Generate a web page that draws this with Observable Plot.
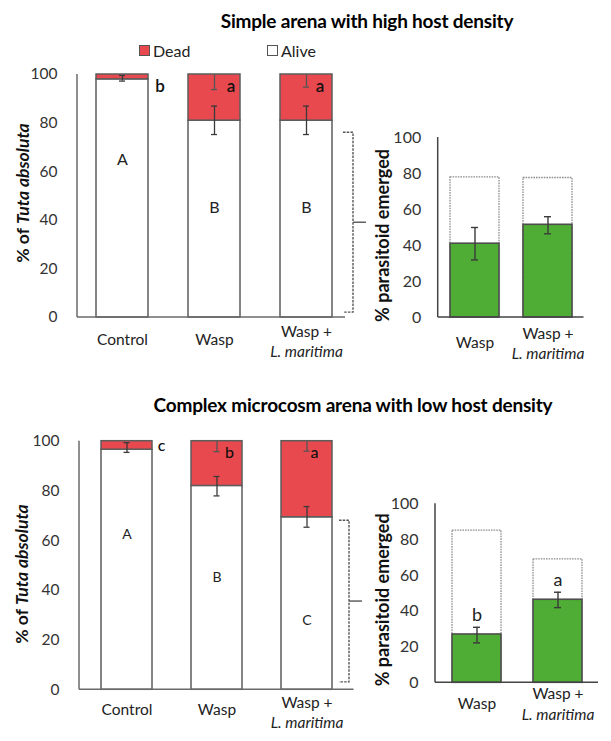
<!DOCTYPE html>
<html><head><meta charset="utf-8">
<script src="https://cdn.jsdelivr.net/npm/d3@7"></script>
<script src="https://cdn.jsdelivr.net/npm/@observablehq/plot@0.6"></script>
<style>
body{margin:0;background:#fff;}
#root{position:relative;width:611px;height:741px;overflow:hidden;font-family:Lato,"Open Sans",sans-serif;background:#fff;}
.abs{position:absolute;}
.title{position:absolute;font-weight:bold;font-size:19px;color:#000;white-space:nowrap;transform:translate(-50%,-50%);letter-spacing:-0.2px;}
.leg{position:absolute;font-size:16px;color:#222;white-space:nowrap;transform:translateY(-50%);}
.sw{position:absolute;width:9px;height:9px;border:1px solid #555;}
</style></head><body><div id="root"></div>
<script>
// ---------- data ----------
const categories = ["Control", "Wasp", "Wasp + L. maritima"];
const catLine1 = ["Control", "Wasp", "Wasp +"];
const catLine2 = ["", "", "L. maritima"];
const parasitoidCats = ["Wasp", "Wasp + L. maritima"];
const parLine1 = ["Wasp", "Wasp +"];
const parLine2 = ["", "L. maritima"];
const yTicks = [0, 20, 40, 60, 80, 100];

// Simple arena with high host density
const simpleAlive = [98, 81, 81];
const simpleAliveErrLow = [97.3, 75.3, 75.3];
const simpleAliveErrHigh = [99.6, 87, 87];
const simpleDeadErrLow = [null, 93.8, 94.8];
const simpleDeadLetters = ["b", "a", "a"];
const simpleAliveLetters = ["A", "B", "B"];
const simpleAliveLetterY = [65, 45, 45];
const simpleBracket = [2, 76];
const simpleEmerged = [41, 51.5];
const simpleEmergedLow = [32, 46.5];
const simpleEmergedHigh = [50, 56];
const simpleParasitized = [77.8, 77.5];
const simpleEmergedLetters = ["", ""];

// Complex microcosm arena with low host density
const complexAlive = [96.6, 82, 69.4];
const complexAliveErrLow = [95.5, 78, 65.4];
const complexAliveErrHigh = [99.4, 85.8, 73.7];
const complexDeadErrLow = [null, 95.8, 96];
const complexDeadLetters = ["c", "b", "a"];
const complexAliveLetters = ["A", "B", "C"];
const complexAliveLetterY = [62.5, 45, 28];
const complexBracket = [3, 68];
const complexEmerged = [27, 46.4];
const complexEmergedLow = [22.3, 42];
const complexEmergedHigh = [31, 50.6];
const complexParasitized = [85, 69];
const complexEmergedLetters = ["b", "a"];

// ---------- styles ----------
const RED = "#e8494e", GREEN = "#4fac35", OUTLINE = "#5c5c5c", ERR = "#3a3a3a";
const NS = "http://www.w3.org/2000/svg";
const root = document.getElementById("root");

function el(tag, attrs) {
  const e = document.createElementNS(NS, tag);
  for (const k in attrs) e.setAttribute(k, attrs[k]);
  return e;
}

function axisLines(color, insetRight) {
  return (index, scales, values, dims) => {
    const y = scales.y;
    const g = el("g", {stroke: color, "stroke-width": 1.5, fill: "none"});
    g.appendChild(el("line", {x1: dims.marginLeft, x2: dims.marginLeft, y1: y(0), y2: y(100)}));
    g.appendChild(el("line", {x1: dims.marginLeft, x2: dims.width - dims.marginRight - insetRight, y1: y(0), y2: y(0)}));
    return g;
  };
}

function yLabel(parts, offset, dy, fontSize) {
  return (index, scales, values, dims) => {
    const cx = dims.marginLeft - offset;
    const cy = dims.marginTop + (dims.height - dims.marginTop - dims.marginBottom) / 2 + dy;
    const t = el("text", {transform: `translate(${cx},${cy}) rotate(-90)`, "text-anchor": "middle", dy: "0.35em",
      "font-weight": "bold", "font-size": fontSize, fill: "#111"});
    for (const [s, it] of parts) {
      const ts = el("tspan", it ? {"font-style": "italic"} : {});
      ts.textContent = s;
      t.appendChild(ts);
    }
    return t;
  };
}

function bracket(range, offset, stub, tickLen) {
  return (index, scales, values, dims) => {
    const x = scales.x, y = scales.y;
    const bw = x.bandwidth ? x.bandwidth() : 0;
    const bx = x(categories[categories.length - 1]) + bw + offset;
    const y1 = y(range[0]), y2 = y(range[1]), ym = y((range[0] + range[1]) / 2);
    const g = el("g", {fill: "none", stroke: "#555", "stroke-width": 1.4});
    g.appendChild(el("path", {d: `M${bx - stub},${y2}H${bx}V${y1}H${bx - stub}`, "stroke-dasharray": "2.5,1.2"}));
    g.appendChild(el("path", {d: `M${bx},${ym}H${bx + tickLen}`}));
    return g;
  };
}

function place(svg, left, top) {
  const d = document.createElement("div");
  d.className = "abs";
  d.style.left = left + "px";
  d.style.top = top + "px";
  d.appendChild(svg);
  root.appendChild(d);
}

function lowerLetters(data, c) {
  return (index, scales, values, dims) => {
    const g = el("g", {"font-size": c.lowerSize, "font-weight": c.lowerWeight, fill: "#111", "text-anchor": "middle"});
    const x = scales.x, y = scales.y, bw = x.bandwidth ? x.bandwidth() : 0;
    for (const d of data) {
      const t = el("text", {x: x(d.cat) + bw / 2 + d.ldx, y: y(100) + d.ldy, dy: "0.35em"});
      t.textContent = d.lower;
      g.appendChild(t);
    }
    return g;
  };
}

const XFS = 15.5;

function stackedPanel(c) {
  const data = categories.map((cat, i) => ({
    cat, line1: catLine1[i], line2: catLine2[i],
    alive: c.alive[i], lo: c.lo[i], hi: c.hi[i], deadLo: c.deadLo[i],
    lower: c.lowerLetters[i], upper: c.upperLetters[i], upperY: c.upperY[i],
    ldx: c.lowerDx[i], ldy: c.lowerDy[i]
  }));
  const withDeadErr = data.filter(d => d.deadLo != null);
  const svg = Plot.plot({
    width: c.width, height: c.height,
    marginLeft: c.ml, marginRight: c.mr, marginTop: c.mt, marginBottom: c.mb,
    style: {background: "transparent", fontFamily: "Lato, 'Open Sans', sans-serif", color: "#333", overflow: "visible"},
    x: {domain: categories, paddingInner: c.pi, paddingOuter: c.po, axis: null},
    y: {domain: [0, 100], axis: null},
    marks: [
      Plot.barY(data, {x: "cat", y1: 0, y2: "alive", fill: "white", stroke: OUTLINE, strokeWidth: 1.5}),
      Plot.barY(data, {x: "cat", y1: "alive", y2: () => 100, fill: RED, stroke: OUTLINE, strokeWidth: 1.5}),
      Plot.ruleX(data, {x: "cat", y1: "lo", y2: "hi", stroke: ERR, strokeWidth: 1.3}),
      Plot.tickY(data, {x: "cat", y: "lo", stroke: ERR, strokeWidth: 1.3, insetLeft: c.capInset, insetRight: c.capInset}),
      Plot.tickY(data, {x: "cat", y: "hi", stroke: ERR, strokeWidth: 1.3, insetLeft: c.capInset, insetRight: c.capInset}),
      Plot.ruleX(withDeadErr, {x: "cat", y1: "deadLo", y2: () => 100, stroke: "#555", strokeWidth: 1.3}),
      Plot.tickY(withDeadErr, {x: "cat", y: "deadLo", stroke: "#555", strokeWidth: 1.3, insetLeft: c.capInset, insetRight: c.capInset}),
      Plot.text(data, {x: "cat", y: "upperY", text: "upper", fontSize: c.upperSize, fill: "#222"}),
      lowerLetters(data, c),
      Plot.axisY({ticks: yTicks, tickSize: 0, tickPadding: c.tickPadding, fontSize: c.tickSize, label: null}),
      axisLines("#6a6a6a", c.baseInset),
      bracket(c.bracket, c.bracketOffset, 10, 13),
      yLabel([["% of ", false], ["Tuta absoluta", true]], c.labelOffset, c.labelDy, 17.5),
      Plot.text(data.filter(d => !d.line2), {x: "cat", text: "line1", frameAnchor: "bottom", dy: c.single, fontSize: XFS, fill: "#222"}),
      Plot.text(data.filter(d => d.line2), {x: "cat", text: "line1", frameAnchor: "bottom", dy: c.two[0], fontSize: XFS, fill: "#222"}),
      Plot.text(data.filter(d => d.line2), {x: "cat", text: "line2", frameAnchor: "bottom", dy: c.two[1], fontSize: XFS, fontStyle: "italic", fill: "#222"})
    ]
  });
  place(svg, c.left, c.top);
}

function parasitoidPanel(c) {
  const data = parasitoidCats.map((cat, i) => ({
    cat, line1: parLine1[i], line2: parLine2[i],
    em: c.emerged[i], lo: c.lo[i], hi: c.hi[i], par: c.par[i], letter: c.letters[i]
  }));
  const svg = Plot.plot({
    width: c.width, height: c.height,
    marginLeft: c.ml, marginRight: c.mr, marginTop: c.mt, marginBottom: c.mb,
    style: {background: "transparent", fontFamily: "Lato, 'Open Sans', sans-serif", color: "#333", overflow: "visible"},
    x: {domain: parasitoidCats, paddingInner: c.pi, paddingOuter: c.po, axis: null},
    y: {domain: [0, 100], axis: null},
    marks: [
      Plot.barY(data, {x: "cat", y1: 0, y2: "par", fill: "none", stroke: "#8f8f8f", strokeWidth: 1.3, strokeDasharray: "1.6,1"}),
      Plot.barY(data, {x: "cat", y1: 0, y2: "em", fill: GREEN, stroke: "#4d4d4d", strokeWidth: 1.6}),
      Plot.ruleX(data, {x: "cat", y1: "lo", y2: "hi", stroke: ERR, strokeWidth: 1.4}),
      Plot.tickY(data, {x: "cat", y: "lo", stroke: ERR, strokeWidth: 1.4, insetLeft: c.capInset, insetRight: c.capInset}),
      Plot.tickY(data, {x: "cat", y: "hi", stroke: ERR, strokeWidth: 1.4, insetLeft: c.capInset, insetRight: c.capInset}),
      Plot.text(data, {x: "cat", y: "hi", text: "letter", dy: -12, fontSize: 18, fill: "#222"}),
      Plot.axisY({ticks: yTicks, tickSize: 0, tickPadding: c.tickPadding, fontSize: 16, label: null}),
      axisLines("#444", 0),
      yLabel([["% parasitoid emerged", false]], c.labelOffset, c.labelDy, 18),
      Plot.text(data.filter(d => !d.line2), {x: "cat", text: "line1", frameAnchor: "bottom", dy: c.single, fontSize: XFS, fill: "#222"}),
      Plot.text(data.filter(d => d.line2), {x: "cat", text: "line1", frameAnchor: "bottom", dy: c.two[0], fontSize: XFS, fill: "#222"}),
      Plot.text(data.filter(d => d.line2), {x: "cat", text: "line2", frameAnchor: "bottom", dy: c.two[1], fontSize: XFS, fontStyle: "italic", fill: "#222"})
    ]
  });
  place(svg, c.left, c.top);
}

// ---------- titles & legend ----------
function addTitle(text, cx, cy) {
  const d = document.createElement("div");
  d.className = "title";
  d.style.left = cx + "px"; d.style.top = cy + "px";
  d.textContent = text;
  root.appendChild(d);
}
addTitle("Simple arena with high host density", 367, 20);
addTitle("Complex microcosm arena with low host density", 353, 404);

const legendItems = [{label: "Dead", color: RED, x: 139}, {label: "Alive", color: "#fff", x: 267}];
for (const it of legendItems) {
  const s = document.createElement("div");
  s.className = "sw"; s.style.left = it.x + "px"; s.style.top = "45px"; s.style.background = it.color;
  root.appendChild(s);
  const t = document.createElement("div");
  t.className = "leg"; t.style.left = (it.x + 14) + "px"; t.style.top = "50px";
  t.textContent = it.label;
  root.appendChild(t);
}

// ---------- panels ----------
stackedPanel({
  alive: simpleAlive, lo: simpleAliveErrLow, hi: simpleAliveErrHigh, deadLo: simpleDeadErrLow,
  lowerLetters: simpleDeadLetters, upperLetters: simpleAliveLetters, upperY: simpleAliveLetterY,
  lowerDx: [38, 17, 14], lowerDy: [12, 12, 12], lowerSize: 17, lowerWeight: 600, upperSize: 16,
  bracket: simpleBracket, bracketOffset: 21,
  left: 0, top: 60, width: 370, height: 320, ml: 77, mr: 18, mt: 14, mb: 63, pi: 0.43, po: 0.2,
  capInset: 23, tickPadding: 20, tickSize: 15.5, baseInset: 7, labelOffset: 54, labelDy: -2.5,
  single: 27, two: [19, 39]
});
stackedPanel({
  alive: complexAlive, lo: complexAliveErrLow, hi: complexAliveErrHigh, deadLo: complexDeadErrLow,
  lowerLetters: complexDeadLetters, upperLetters: complexAliveLetters, upperY: complexAliveLetterY,
  lowerDx: [35, 13, 8], lowerDy: [5, 12, 12], lowerSize: 16, lowerWeight: 500, upperSize: 14,
  bracket: complexBracket, bracketOffset: 17,
  left: 0, top: 420, width: 370, height: 321, ml: 79, mr: 16.5, mt: 20.7, mb: 51.7, pi: 0.43, po: 0.225,
  capInset: 22.5, tickPadding: 20, tickSize: 15.5, baseInset: 0, labelOffset: 57, labelDy: 9,
  single: 25, two: [18, 38]
});
parasitoidPanel({
  emerged: simpleEmerged, lo: simpleEmergedLow, hi: simpleEmergedHigh, par: simpleParasitized, letters: simpleEmergedLetters,
  left: 340, top: 120, width: 271, height: 260, ml: 97.7, mr: 27.5, mt: 17, mb: 63, pi: 0.33, po: 0.162,
  capInset: 21, tickPadding: 17, labelOffset: 54.7, labelDy: 8.5, single: 30, two: [21, 41]
});
parasitoidPanel({
  emerged: complexEmerged, lo: complexEmergedLow, hi: complexEmergedHigh, par: complexParasitized, letters: complexEmergedLetters,
  left: 340, top: 480, width: 271, height: 261, ml: 95, mr: 13, mt: 23.3, mb: 58.7, pi: 0.40, po: 0.195,
  capInset: 21, tickPadding: 17, labelOffset: 52, labelDy: 7, single: 26, two: [16, 37]
});
</script></body></html>
